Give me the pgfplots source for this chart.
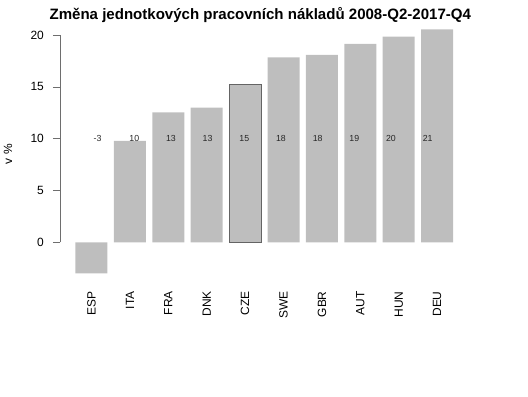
\documentclass[border=0pt]{standalone}
\usepackage{pgfplots}
\pgfplotsset{compat=1.18}
\usepackage{fontspec}
\setmainfont{Liberation Sans}
\definecolor{barg}{RGB}{190,190,190}
\definecolor{axg}{RGB}{110,110,110}
\definecolor{czeb}{RGB}{100,100,100}
\begin{document}
\begin{tikzpicture}[x=1bp,y=1bp]
\useasboundingbox (-60,-117.44) rectangle (468,278.56);
\begin{axis}[
 at={(0,0)}, anchor=south west,
 scale only axis, width=415.5bp, height=253.8bp,
 xmin=-0.82, xmax=10, ymin=-3.5, ymax=21,
 axis line style={draw=none},
 xtick={0,...,9},
 xticklabels={ESP,ITA,FRA,DNK,CZE,SWE,GBR,AUT,HUN,DEU},
 x tick style={draw=none},
 xticklabel style={rotate=90, anchor=east, inner sep=0pt, font=\fontsize{12}{14}\selectfont},
 xticklabel shift=5.6bp,
 ytick={0,5,10,15,20},
 ytick pos=left, tick align=outside, major tick length=7bp,
 y tick style={axg, line width=0.8bp},
 yticklabel style={anchor=east, inner sep=0pt, xshift=-9bp, font=\fontsize{12}{14}\selectfont},
 /pgf/number format/assume math mode=true,
 clip=false,
]
\addplot[ybar, bar width=32bp, bar shift=0pt, fill=barg, draw=none]
 coordinates {(0,-3.0) (1,9.8) (2,12.55) (3,13.0) (5,17.85) (6,18.1) (7,19.15) (8,19.85) (9,20.55)};
\addplot[ybar, bar width=32bp, bar shift=0pt, fill=barg, draw=czeb, line width=0.8bp]
 coordinates {(4,15.27)};
\addplot[draw=none, mark=none, nodes near coords, point meta=explicit symbolic,
 nodes near coords style={anchor=center, inner sep=0pt, font=\fontsize{8.8}{10}\selectfont, text=black!85}]
 coordinates {(0.159,10) [-3] (1.114,10) [10] (2.069,10) [13] (3.024,10) [13] (3.979,10) [15]
 (4.934,10) [18] (5.889,10) [18] (6.844,10) [19] (7.799,10) [20] (8.754,10) [21]};
\draw[axg, line width=0.8bp] (axis cs:-0.82,0) -- (axis cs:-0.82,20);
\end{axis}
\node[anchor=base, font=\bfseries\fontsize{15.1}{18}\selectfont] at (200.3,259) {Změna jednotkových pracovních nákladů 2008-Q2-2017-Q4};
\node[rotate=90, font=\fontsize{12}{14}\selectfont] at (-52,124.5) {v \%};
\end{tikzpicture}
\end{document}
